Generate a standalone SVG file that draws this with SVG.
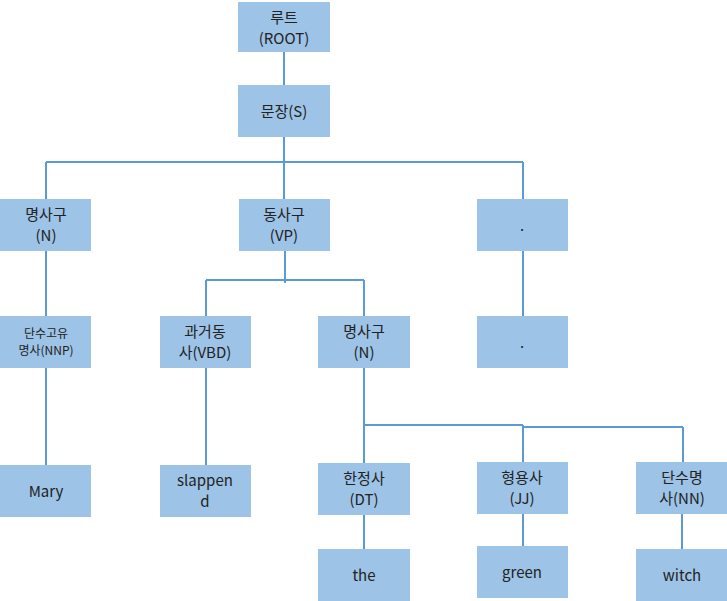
<svg xmlns="http://www.w3.org/2000/svg" width="727" height="601" viewBox="0 0 727 601">
<style>
.box{fill:#9DC3E6}
.t{font-family:"Noto Sans CJK KR","Malgun Gothic","Noto Sans",sans-serif;font-size:15px;fill:#222;text-anchor:middle}
.s{font-size:12px}
.c{stroke:#5B9BD5;stroke-width:2;fill:none}
</style>
<rect width="727" height="601" fill="#fff"/>
<g id="connectors">
<path class="c" d="M284 52V85M284 137V162M46 162H523M46 162V199M284 162V199M523 162V199"/>
<path class="c" d="M46 251V316M46 368V465"/>
<path class="c" d="M285 251V283M206 280H364M206 280V316M364 280V316"/>
<path class="c" d="M523 251V316"/>
<path class="c" d="M206 368V465"/>
<path class="c" d="M364 368V463M364 425H523M523 425V462M523 427H683M683 427V462"/>
<path class="c" d="M364 515V549M523 514V546M682 514V549"/>
</g>
<g id="root"><rect class="box" x="238" y="2" width="92" height="50"/><text class="t" x="284" y="23">루트</text><text class="t" x="284" y="44">(ROOT)</text></g>
<g id="s"><rect class="box" x="238" y="85" width="92" height="52"/><text class="t" x="284" y="117">문장(S)</text></g>
<g id="np1"><rect class="box" x="0" y="199" width="91" height="52"/><text class="t" x="46" y="220">명사구</text><text class="t" x="46" y="241">(N)</text></g>
<g id="vp"><rect class="box" x="239" y="199" width="91" height="52"/><text class="t" x="284" y="220">동사구</text><text class="t" x="284" y="241">(VP)</text></g>
<g id="dot1"><rect class="box" x="477" y="199" width="91" height="52"/><text class="t" x="522" y="231">.</text></g>
<g id="nnp"><rect class="box" x="0" y="316" width="91" height="52"/><text class="t s" x="46" y="338">단수고유</text><text class="t s" x="46" y="355">명사(NNP)</text></g>
<g id="vbd"><rect class="box" x="160" y="316" width="91" height="52"/><text class="t" x="205" y="337">과거동</text><text class="t" x="205" y="358">사(VBD)</text></g>
<g id="np2"><rect class="box" x="318" y="316" width="92" height="52"/><text class="t" x="364" y="337">명사구</text><text class="t" x="364" y="358">(N)</text></g>
<g id="dot2"><rect class="box" x="477" y="316" width="91" height="52"/><text class="t" x="522" y="348">.</text></g>
<g id="mary"><rect class="box" x="0" y="465" width="91" height="52"/><text class="t" x="46" y="497">Mary</text></g>
<g id="slapped"><rect class="box" x="160" y="465" width="91" height="52"/><text class="t" x="205" y="486">slappen</text><text class="t" x="205" y="507">d</text></g>
<g id="dt"><rect class="box" x="318" y="463" width="92" height="52"/><text class="t" x="364" y="484">한정사</text><text class="t" x="364" y="505">(DT)</text></g>
<g id="jj"><rect class="box" x="477" y="462" width="91" height="52"/><text class="t" x="522" y="483">형용사</text><text class="t" x="522" y="504">(JJ)</text></g>
<g id="nn"><rect class="box" x="636" y="462" width="91" height="52"/><text class="t" x="682" y="483">단수명</text><text class="t" x="682" y="504">사(NN)</text></g>
<g id="the"><rect class="box" x="318" y="549" width="92" height="52"/><text class="t" x="364" y="581">the</text></g>
<g id="green"><rect class="box" x="477" y="546" width="91" height="52"/><text class="t" x="522" y="578">green</text></g>
<g id="witch"><rect class="box" x="636" y="549" width="91" height="52"/><text class="t" x="682" y="581">witch</text></g>
</svg>
